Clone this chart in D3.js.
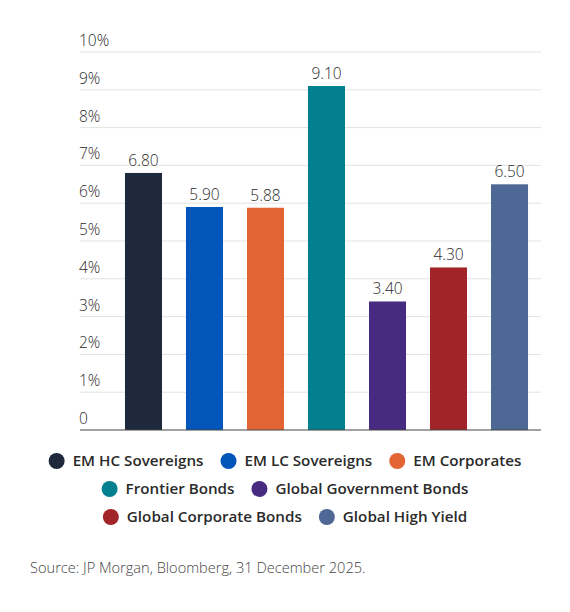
<!DOCTYPE html>
<html>
<head>
<meta charset="utf-8">
<script src="https://cdn.jsdelivr.net/npm/d3@7"></script>
<style>
  body { margin: 0; background: #fff; }
  svg text { font-family: "Open Sans", Lato, sans-serif; }
</style>
</head>
<body>
<svg id="chart" width="570" height="612"></svg>
<script>
var categories = ["EM HC Sovereigns", "EM LC Sovereigns", "EM Corporates", "Frontier Bonds",
                  "Global Government Bonds", "Global Corporate Bonds", "Global High Yield"];
var values = [6.80, 5.90, 5.88, 9.10, 3.40, 4.30, 6.50];
var colors = ["#1e2a3b", "#0356b9", "#e26433", "#02808f", "#462b80", "#a12528", "#4d6895"];
var yTicks = [0, 1, 2, 3, 4, 5, 6, 7, 8, 9, 10];
var legendRows = [[0, 1, 2], [3, 4], [5, 6]];
var source = "Source: JP Morgan, Bloomberg, 31 December 2025.";

var svg = d3.select("#chart");

var y = d3.scaleLinear().domain([0, 10]).range([430, 52]);
var x = d3.scaleBand().domain(categories).range([101, 552]).paddingInner(0.393).paddingOuter(0.393);

// gridlines + tick labels
var grid = svg.append("g");
grid.selectAll("line")
    .data(yTicks.filter(function(d) { return d > 0; }))
    .enter().append("line")
    .attr("x1", 80).attr("x2", 541)
    .attr("y1", function(d) { return y(d); })
    .attr("y2", function(d) { return y(d); })
    .attr("stroke", "#e3e3e3")
    .attr("stroke-width", 1);

grid.selectAll("text")
    .data(yTicks)
    .enter().append("text")
    .attr("x", 79)
    .attr("y", function(d) { return y(d) - 6; })
    .attr("fill", "#2a2a2a")
    .attr("font-weight", 300)
    .style("font-size", "15.5px")
    .text(function(d) { return d === 0 ? "0" : d + "%"; });

// bars
svg.append("g").selectAll("rect")
    .data(values)
    .enter().append("rect")
    .attr("x", function(d, i) { return x(categories[i]); })
    .attr("y", function(d) { return y(d); })
    .attr("width", x.bandwidth())
    .attr("height", function(d) { return y(0) - y(d); })
    .attr("fill", function(d, i) { return colors[i]; });

// value labels
svg.append("g").selectAll("text")
    .data(values)
    .enter().append("text")
    .attr("x", function(d, i) { return x(categories[i]) + x.bandwidth() / 2; })
    .attr("y", function(d) { return y(d) - 7; })
    .attr("text-anchor", "middle")
    .attr("fill", "#2a2a2a")
    .attr("font-weight", 300)
    .style("font-size", "15.5px")
    .text(function(d) { return d.toFixed(2); });

// baseline
svg.append("line")
    .attr("x1", 80).attr("x2", 541)
    .attr("y1", y(0)).attr("y2", y(0))
    .attr("stroke", "#444")
    .attr("stroke-width", 1);

// legend
var rowY = [461, 489, 517];
legendRows.forEach(function(row, r) {
    var g = svg.append("g");
    var cx = 0;
    row.forEach(function(idx, k) {
        g.append("circle")
            .attr("cx", cx + 8).attr("cy", 0).attr("r", 8)
            .attr("fill", colors[idx]);
        var t = g.append("text")
            .attr("x", cx + 24).attr("y", 0)
            .attr("dy", "0.35em")
            .attr("fill", "#2a2a2a")
            .attr("font-weight", 600)
            .style("font-size", "15.2px")
            .text(categories[idx]);
        cx += 24 + t.node().getComputedTextLength() + (k < row.length - 1 ? 17 : 0);
    });
    g.attr("transform", "translate(" + (285 - cx / 2) + "," + rowY[r] + ")");
});

svg.append("text")
    .attr("x", 30).attr("y", 573)
    .attr("fill", "#444")
    .attr("font-weight", 300)
    .style("font-size", "14.6px")
    .text(source);
</script>
</body>
</html>
